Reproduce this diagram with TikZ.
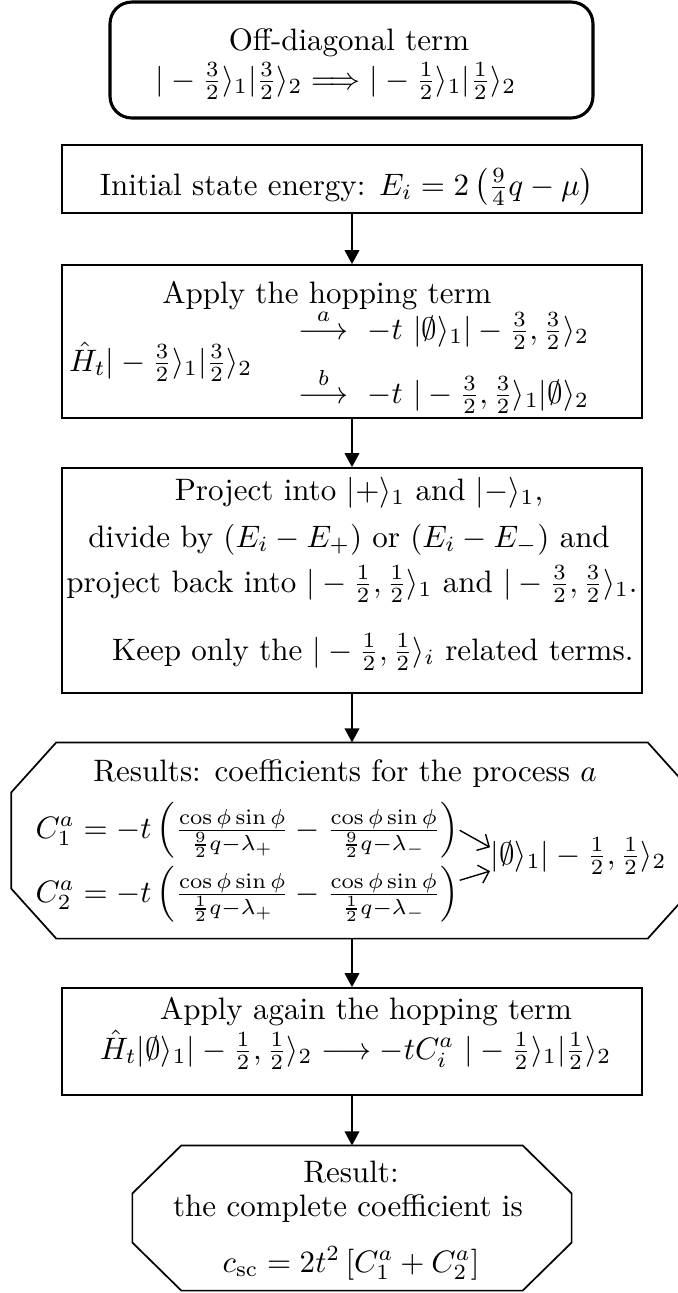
\documentclass[tikz,border=0pt]{standalone}
\usepackage{amsmath,amssymb}
\usetikzlibrary{arrows.meta}
\begin{document}
\begin{tikzpicture}[x=0.3226pt,y=-0.3226pt,
  boxa/.style={draw, line width=1pt, rounded corners=7pt, inner sep=0pt, minimum width=155.8pt, minimum height=37.4pt},
  boxb/.style={draw, line width=0.55pt, inner sep=0pt, minimum width=187.1pt},
  octo/.style={inner sep=0pt},
  txt/.style={inner sep=0pt, anchor=base},
  flow/.style={line width=0.55pt, -{Triangle[length=4.5pt,width=4.7pt]}},
  thinarr/.style={line width=0.45pt, -{Straight Barb[length=3pt,width=6pt]}},
  oline/.style={line width=0.55pt}]
\useasboundingbox (0,0) rectangle (677,1293);

% ---------- box 1
\node[boxa] (n1) at (351.5,60) {};
\node[txt] (t1a) at (349,50) {Off-diagonal term};
\node[txt] (t1b) at (336,89) {$|-\frac{3}{2}\rangle_1|\frac{3}{2}\rangle_2 \Longrightarrow |-\frac{1}{2}\rangle_1|\frac{1}{2}\rangle_2$};

% ---------- box 2
\node[boxb, minimum height=21.94pt] (n2) at (352,179) {};
\node[txt] (t2) at (347,195) {Initial state energy: $E_i = 2\left(\frac{9}{4}q-\mu\right)$};

% ---------- box 3
\node[boxb, minimum height=49.36pt] (n3) at (352,341.5) {};
\node[txt] (t3a) at (327,303) {Apply the hopping term};
\node[txt, anchor=base east] (t3b) at (253,371) {$\hat{H}_t|-\frac{3}{2}\rangle_1|\frac{3}{2}\rangle_2$};
\node[txt, anchor=base west] (t3c) at (298,339) {$\stackrel{a}{\longrightarrow}\ -t\ |\emptyset\rangle_1|-\frac{3}{2},\frac{3}{2}\rangle_2$};
\node[txt, anchor=base west] (t3d) at (298,403) {$\stackrel{b}{\longrightarrow}\ -t\ |-\frac{3}{2},\frac{3}{2}\rangle_1|\emptyset\rangle_2$};

% ---------- box 4
\node[boxb, minimum height=72.59pt] (n4) at (352,580.5) {};
\node[txt] (t4a) at (359,500) {Project into $|+\rangle_1$ and $|-\rangle_1$,};
\node[txt] (t4b) at (349,547) {divide by $(E_i-E_+)$ or $(E_i-E_-)$ and};
\node[txt] (t4c) at (352,592) {project back into $|-\frac{1}{2},\frac{1}{2}\rangle_1$ and $|-\frac{3}{2},\frac{3}{2}\rangle_1$.};
\node[txt, anchor=base east] (t4d) at (634,660) {Keep only the $|-\frac{1}{2},\frac{1}{2}\rangle_i$ related terms.};

% ---------- box 5 (octagon)
\node[octo, minimum width=219.4pt, minimum height=62.9pt] (n5) at (352,840.5) {};
\draw[oline] ([xshift=14.5pt]n5.north west) -- ([xshift=-14.5pt]n5.north east)
  -- ([yshift=-16.1pt]n5.north east) -- ([yshift=16.1pt]n5.south east)
  -- ([xshift=-14.5pt]n5.south east) -- ([xshift=14.5pt]n5.south west)
  -- ([yshift=16.1pt]n5.south west) -- ([yshift=-16.1pt]n5.north west) -- cycle;
\node[txt] (t5a) at (345,781) {Results: coefficients for the process $a$};
\node[txt, anchor=base west] (c1) at (35,838) {$C_1^a = -t\left(\frac{\cos\phi\sin\phi}{\frac{9}{2}q-\lambda_+} - \frac{\cos\phi\sin\phi}{\frac{9}{2}q-\lambda_-}\right)$};
\node[txt, anchor=base west] (c2) at (35,902) {$C_2^a = -t\left(\frac{\cos\phi\sin\phi}{\frac{1}{2}q-\lambda_+} - \frac{\cos\phi\sin\phi}{\frac{1}{2}q-\lambda_-}\right)$};
\node[txt, anchor=base west] (lab) at (490,864) {$|\emptyset\rangle_1|-\frac{1}{2},\frac{1}{2}\rangle_2$};
\draw[thinarr] (c1.east) -- ([yshift=2.9pt]lab.west);
\draw[thinarr] ([yshift=4.5pt]c2.east) -- ([yshift=-4.8pt]lab.west);

% ---------- box 6
\node[boxb, minimum height=34.52pt] (n6) at (352,1041.5) {};
\node[txt] (t6a) at (366,1019) {Apply again the hopping term};
\node[txt, anchor=base east] (t6b) at (612,1059) {$\hat{H}_t|\emptyset\rangle_1|-\frac{1}{2},\frac{1}{2}\rangle_2 \longrightarrow -tC_i^a\ |-\frac{1}{2}\rangle_1|\frac{1}{2}\rangle_2$};

% ---------- box 7 (octagon)
\node[octo, minimum width=141.3pt, minimum height=46.45pt] (n7) at (352,1218) {};
\draw[oline] ([xshift=15.8pt]n7.north west) -- ([xshift=-15.8pt]n7.north east)
  -- ([yshift=-15.5pt]n7.north east) -- ([yshift=15.5pt]n7.south east)
  -- ([xshift=-15.8pt]n7.south east) -- ([xshift=15.8pt]n7.south west)
  -- ([yshift=15.5pt]n7.south west) -- ([yshift=-15.5pt]n7.north west) -- cycle;
\node[txt] (t7a) at (351,1182) {Result:};
\node[txt] (t7b) at (348,1216) {the complete coefficient is};
\node[txt] (t7c) at (351,1272) {$c_{\mathrm{sc}} = 2t^2\left[C_1^a+C_2^a\right]$};

% ---------- connectors
\draw[flow] (n2) -- (n3);
\draw[flow] (n3) -- (n4);
\draw[flow] (n4) -- (n5);
\draw[flow] (n5) -- (n6);
\draw[flow] (n6) -- (n7);
\end{tikzpicture}
\end{document}
